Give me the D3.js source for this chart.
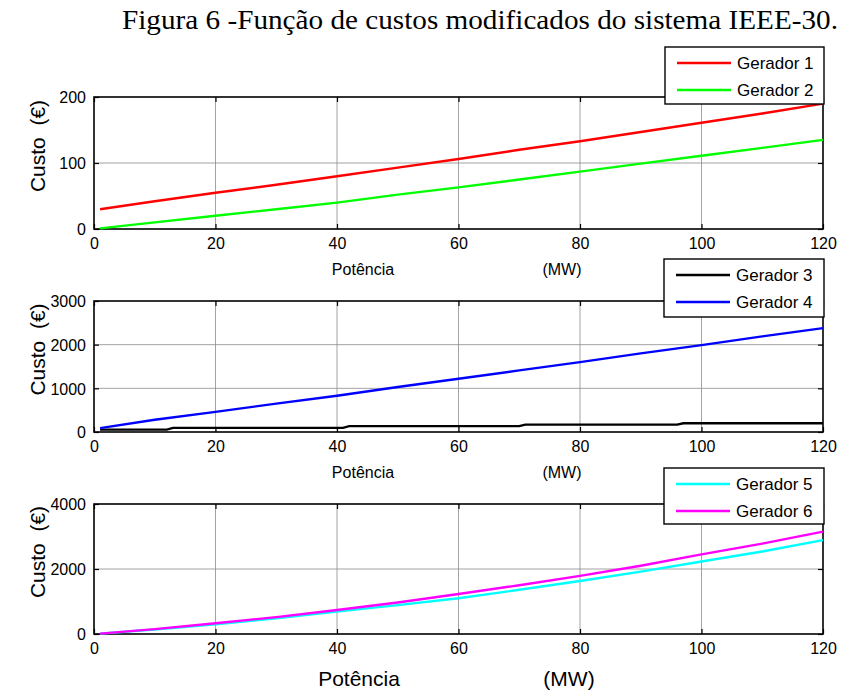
<!DOCTYPE html>
<html>
<head>
<meta charset="utf-8">
<script src="https://cdn.jsdelivr.net/npm/d3@7"></script>
<style>
  body { margin: 0; background: #fff; }
  svg { display: block; font-family: "Liberation Sans", Arial, sans-serif; }
</style>
</head>
<body>
<div id="chart"></div>
<script>
const W = 842, H = 690;

// potência (MW) sample points
const potencia = [1, 10, 20, 30, 40, 50, 60, 70, 80, 90, 100, 110, 120];

const gerador1 = [30, 42, 55, 67, 80, 93, 106, 120, 133, 147, 161, 175, 190];
const gerador2 = [1, 10, 20, 30, 40, 52, 63, 75, 87, 99, 111, 123, 135];
const gerador4 = [90, 280, 460, 650, 830, 1030, 1220, 1410, 1600, 1800, 1990, 2190, 2380];
const gerador5 = [10, 140, 300, 480, 690, 890, 1100, 1360, 1630, 1920, 2230, 2540, 2890];
const gerador6 = [10, 150, 330, 520, 740, 970, 1230, 1500, 1790, 2100, 2450, 2780, 3150];

// gerador 3 is a step function
const potencia3 = [1, 12, 13, 41, 42, 70, 71, 96, 97, 120];
const gerador3 = [55, 55, 95, 95, 135, 135, 170, 170, 200, 200];

const xTicks = [0, 20, 40, 60, 80, 100, 120];

const panels = [
  {
    top: 97, bottom: 229, yMax: 200, yTicks: [0, 100, 200],
    series: [
      { name: "Gerador 1", x: potencia, y: gerador1, color: "#ff0000" },
      { name: "Gerador 2", x: potencia, y: gerador2, color: "#00ff00" },
    ],
    legend: { x: 665, y: 47, w: 159, h: 57 },
    xlab: { y: 269, size: 16, px: 363, mx: 562 },
  },
  {
    top: 301, bottom: 432, yMax: 3000, yTicks: [0, 1000, 2000, 3000],
    series: [
      { name: "Gerador 3", x: potencia3, y: gerador3, color: "#000000" },
      { name: "Gerador 4", x: potencia, y: gerador4, color: "#0000ff" },
    ],
    legend: { x: 664, y: 259, w: 160, h: 58 },
    xlab: { y: 472, size: 16, px: 363, mx: 562 },
  },
  {
    top: 504, bottom: 634, yMax: 4000, yTicks: [0, 2000, 4000],
    series: [
      { name: "Gerador 5", x: potencia, y: gerador5, color: "#00ffff" },
      { name: "Gerador 6", x: potencia, y: gerador6, color: "#ff00ff" },
    ],
    legend: { x: 664, y: 468, w: 160, h: 56 },
    xlab: { y: 679, size: 21, px: 359, mx: 569 },
  },
];

const left = 94, right = 823;

const svg = d3.select("#chart").append("svg")
  .attr("width", W).attr("height", H);

svg.append("text")
  .attr("x", 122).attr("y", 29)
  .attr("font-family", "'Liberation Serif', 'Times New Roman', serif")
  .attr("font-size", 27)
  .attr("textLength", 716)
  .attr("lengthAdjust", "spacingAndGlyphs")
  .text("Figura 6 -Função de custos modificados do sistema IEEE-30.");

const x = d3.scaleLinear().domain([0, 120]).range([left, right]);

panels.forEach((p) => {
  const y = d3.scaleLinear().domain([0, p.yMax]).range([p.bottom, p.top]);
  const g = svg.append("g");

  // grid
  g.append("g").selectAll("line").data(xTicks.slice(1, -1)).join("line")
    .attr("x1", (d) => x(d)).attr("x2", (d) => x(d))
    .attr("y1", p.top).attr("y2", p.bottom)
    .attr("stroke", "#8c8c8c").attr("stroke-width", 0.8);
  g.append("g").selectAll("line").data(p.yTicks.slice(1, -1)).join("line")
    .attr("x1", left).attr("x2", right)
    .attr("y1", (d) => y(d)).attr("y2", (d) => y(d))
    .attr("stroke", "#8c8c8c").attr("stroke-width", 0.8);

  // axes with inward ticks
  g.append("g").attr("transform", `translate(0,${p.bottom})`)
    .call(d3.axisBottom(x).tickValues(xTicks).tickFormat(d3.format("d"))
      .tickSizeInner(-5).tickSizeOuter(0).tickPadding(9));
  g.append("g").attr("transform", `translate(0,${p.top})`)
    .call(d3.axisTop(x).tickValues(xTicks).tickSizeInner(-5).tickSizeOuter(0).tickFormat(""));
  const yl = g.append("g").attr("transform", `translate(${left},0)`)
    .call(d3.axisLeft(y).tickValues(p.yTicks).tickFormat(d3.format("d"))
      .tickSizeInner(-5).tickSizeOuter(0).tickPadding(8));
  g.append("g").attr("transform", `translate(${right},0)`)
    .call(d3.axisRight(y).tickValues(p.yTicks).tickSizeInner(-5).tickSizeOuter(0).tickFormat(""));
  g.selectAll(".domain").remove();
  g.selectAll(".tick line").attr("stroke", "#000").attr("stroke-width", 1.2);
  g.selectAll(".tick text").attr("font-size", 16).attr("fill", "#000")
    .attr("font-family", "'Liberation Sans', Arial, sans-serif");
  yl.selectAll(".tick text").attr("dy", "0.36em");

  g.append("rect")
    .attr("x", left).attr("y", p.top)
    .attr("width", right - left).attr("height", p.bottom - p.top)
    .attr("fill", "none").attr("stroke", "#000").attr("stroke-width", 1.6);

  // series
  p.series.forEach((s) => {
    const pts = s.x.map((v, i) => [v, s.y[i]]);
    g.append("path")
      .datum(pts)
      .attr("fill", "none")
      .attr("stroke", s.color)
      .attr("stroke-width", 2.4)
      .attr("d", d3.line().x((d) => x(d[0])).y((d) => y(d[1])));
  });

  // y label
  g.append("text")
    .attr("transform", `translate(45,${(p.top + p.bottom) / 2 - 17}) rotate(-90)`)
    .attr("text-anchor", "middle")
    .attr("font-size", 21)
    .attr("xml:space", "preserve")
    .text("Custo  (€)");

  // x labels
  g.append("text").attr("x", p.xlab.px).attr("y", p.xlab.y)
    .attr("text-anchor", "middle").attr("dy", "0.35em")
    .attr("font-size", p.xlab.size).text("Potência");
  g.append("text").attr("x", p.xlab.mx).attr("y", p.xlab.y)
    .attr("text-anchor", "middle").attr("dy", "0.35em")
    .attr("font-size", p.xlab.size).text("(MW)");

  // legend
  const L = p.legend;
  const lg = g.append("g").attr("transform", `translate(${L.x},${L.y})`);
  lg.append("rect").attr("width", L.w).attr("height", L.h)
    .attr("fill", "#fff").attr("stroke", "#000").attr("stroke-width", 1.4);
  p.series.forEach((s, i) => {
    const ry = 16 + i * 27;
    lg.append("line").attr("x1", 12).attr("x2", 66).attr("y1", ry).attr("y2", ry)
      .attr("stroke", s.color).attr("stroke-width", 2.4);
    lg.append("text").attr("x", 72).attr("y", ry).attr("dy", "0.35em")
      .attr("font-size", 17).text(s.name);
  });
});
</script>
</body>
</html>
